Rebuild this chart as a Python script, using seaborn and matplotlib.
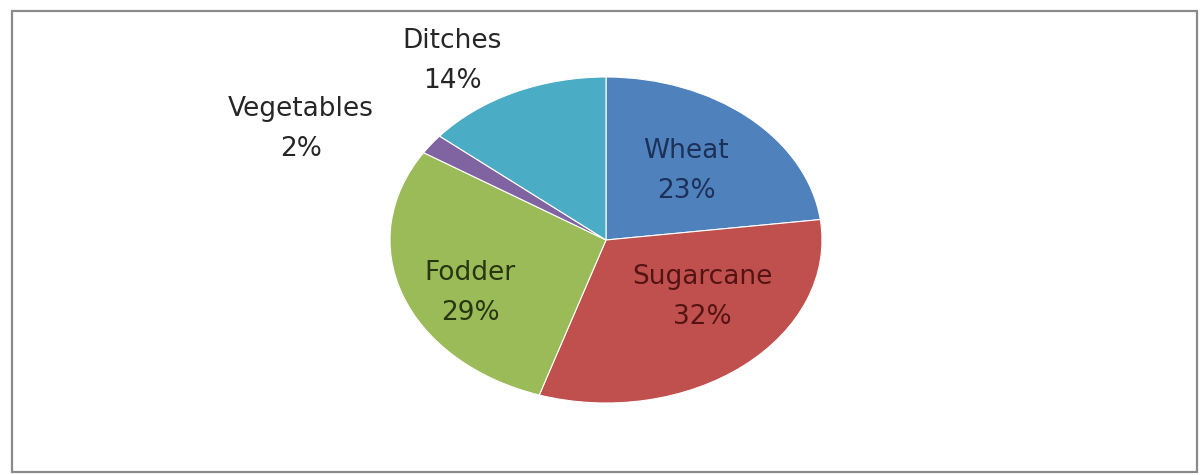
import matplotlib
matplotlib.use("Agg")
import matplotlib.pyplot as plt
from matplotlib.patches import Rectangle
import seaborn as sns

# Crop area shares (%)
crops = ["Wheat", "Sugarcane", "Fodder", "Vegetables", "Ditches"]
shares = [23, 32, 29, 2, 14]

# Office-style palette
slice_colors = ["#4F81BD", "#C0504D", "#9BBB59", "#8064A2", "#4BACC6"]
text_colors = ["#1d3158", "#551414", "#27360f", "#262626", "#262626"]

# label anchor points (figure pixels, measured from top-left)
label_px = [(686, 171), (702, 297), (470, 293), (301, 129), (452, 61)]

sns.set_theme(style="white")
plt.rcParams["font.family"] = ["DejaVu Sans"]

W, H = 1203, 475
fig = plt.figure(figsize=(W / 100, H / 100), dpi=100)
ax = fig.add_axes([0, 0, 1, 1])

palette = sns.color_palette(slice_colors)
ax.pie(shares, colors=palette, startangle=90, counterclock=False,
       radius=1.0, center=(0, 0), frame=False,
       wedgeprops=dict(edgecolor="white", linewidth=0.8))

# stretch the pie into an ellipse: center at (606, 240) px, radii 216 x 163 px
cx, cy, rx, ry = 606, 240, 216, 163
ax.set_aspect("auto")
ax.set_xlim(-cx / rx, (W - cx) / rx)
ax.set_ylim(-(H - cy) / ry, cy / ry)
ax.axis("off")

for name, val, (px, py), tc in zip(crops, shares, label_px, text_colors):
    ax.text(px / W, 1 - py / H, f"{name}\n{val}%", transform=ax.transAxes,
            ha="center", va="center", fontsize=19, color=tc,
            linespacing=1.7)

# chart frame
fig.patches.append(Rectangle((12 / W, 3 / H), (1197 - 12) / W, (472 - 11) / H,
                             transform=fig.transFigure, fill=False,
                             edgecolor="#8a8a8a", linewidth=1.6))

fig.savefig("out.png", dpi=100, facecolor="white")
